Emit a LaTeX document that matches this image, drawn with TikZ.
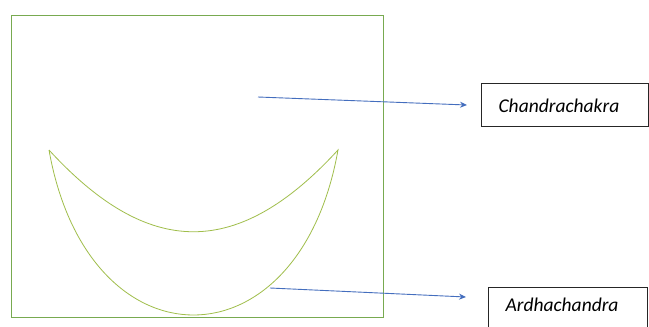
\documentclass[tikz,border=0pt]{standalone}
\usepackage{fontspec}
\setmainfont{Carlito}
\usetikzlibrary{arrows.meta}
\definecolor{frameC}{RGB}{120,170,80}
\definecolor{moonC}{RGB}{160,190,75}
\definecolor{arrC}{RGB}{68,110,190}
\tikzset{
  labelbox/.style={draw=black!85, line width=1.1pt, anchor=north west, align=left, inner xsep=17pt, text height=15pt, font=\itshape\fontsize{19.5}{22}\selectfont},
  pointer/.style={draw=arrC, line width=0.9pt, -{Stealth[length=7pt,width=6pt]}},
}
\begin{document}
\begin{tikzpicture}[x=1pt,y=-1pt]
\useasboundingbox (0,0) rectangle (649,327);
\clip (0,0) rectangle (649,327);
\fill[white] (0,0) rectangle (649,327);
% frame
\draw[frameC, line width=0.9pt] (11,15) rectangle (383,317);
% crescent
\coordinate (tipL) at (49,150);
\coordinate (tipR) at (338,150);
\draw[moonC, line width=0.8pt] (tipL) .. controls (88,370) and (299,370) .. (tipR)
  .. controls (238,259) and (149,259) .. (tipL);
% label boxes
\node[labelbox, minimum width=167pt, text width=133pt, inner ysep=14pt, text depth=0pt] (chandra) at (481,83) {Chandrachakra};
\node[labelbox, minimum width=159pt, text width=125pt, inner ysep=9pt, text depth=30pt] (ardha) at (488,287) {Ardhachandra};
% arrows
\coordinate (s1) at (258,97);
\coordinate (e1) at (467,105);
\coordinate (s2) at (270,288);
\coordinate (e2) at (466,297);
\draw[pointer] (s1) -- (e1);
\draw[pointer] (s2) -- (e2);
\end{tikzpicture}
\end{document}
